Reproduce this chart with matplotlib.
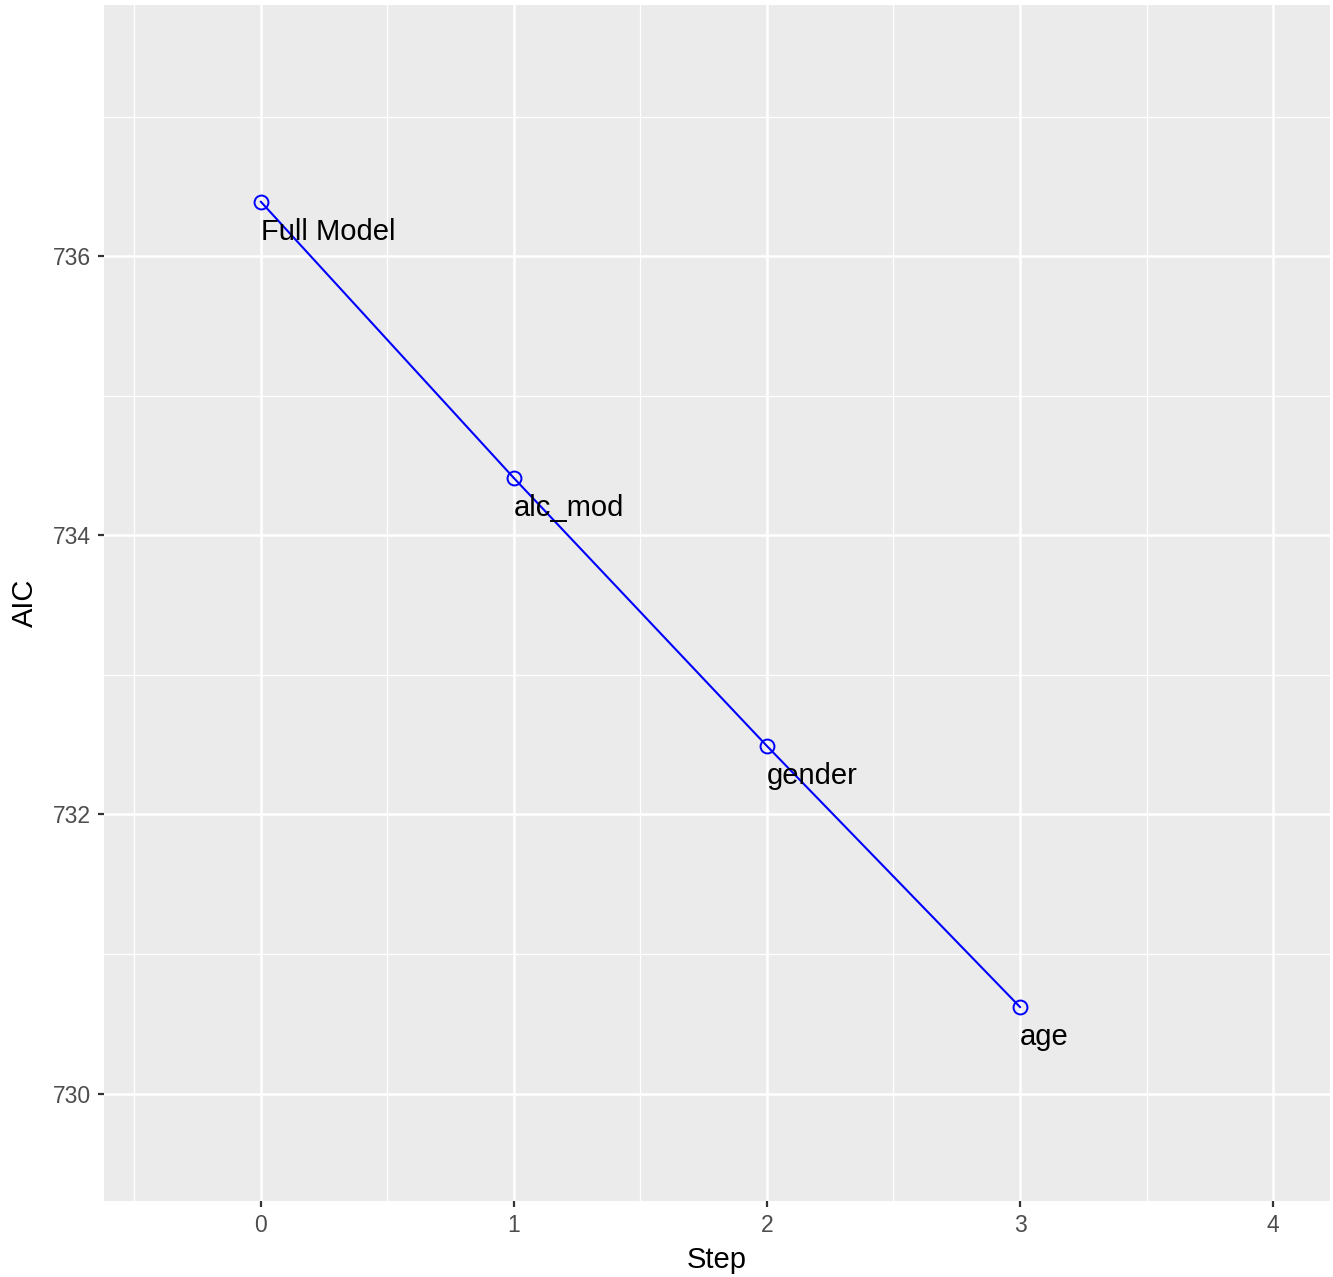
import matplotlib.pyplot as plt
from matplotlib.ticker import MultipleLocator

# AIC at each step of backward elimination
steps = [0, 1, 2, 3]
aic = [736.39, 734.41, 732.49, 730.62]
labels = ["Full Model", "alc_mod", "gender", "age"]

plt.rcParams["font.family"] = ["Liberation Sans", "DejaVu Sans"]

fig = plt.figure(figsize=(13.33, 12.77), dpi=100)
ax = fig.add_axes([104 / 1333, 1 - 1201 / 1277, 1226 / 1333, 1196 / 1277])

# ggplot-like grey panel
ax.set_facecolor("#EBEBEB")
for s in ax.spines.values():
    s.set_visible(False)

ax.set_xlim(-0.62, 4.225)
ax.set_ylim(729.23, 737.8)
ax.xaxis.set_major_locator(MultipleLocator(1))
ax.xaxis.set_minor_locator(MultipleLocator(0.5))
ax.yaxis.set_major_locator(MultipleLocator(2))
ax.yaxis.set_minor_locator(MultipleLocator(1))
ax.grid(which="major", color="white", linewidth=1.8)
ax.grid(which="minor", color="white", linewidth=0.9)
ax.set_axisbelow(True)

ax.tick_params(which="major", length=4.5, width=1.6, color="#333333",
               labelsize=16.5, labelcolor="#4D4D4D")
ax.tick_params(axis="x", which="major", pad=5)
ax.tick_params(axis="y", which="major", pad=5)
ax.tick_params(which="minor", length=0)

ax.plot(steps, aic, color="blue", linewidth=1.5, marker="o",
        markersize=10, markerfacecolor="none", markeredgecolor="blue",
        markeredgewidth=1.4, zorder=3)

for x, y, lab in zip(steps, aic, labels):
    ax.annotate(lab, (x, y), xytext=(0, -11.5), textcoords="offset points",
                ha="left", va="top", fontsize=21, color="black", zorder=4)

ax.set_xlabel("Step", fontsize=21, labelpad=6)
ax.set_ylabel("AIC", fontsize=21, labelpad=10)

fig.savefig("out.png", dpi=100)
